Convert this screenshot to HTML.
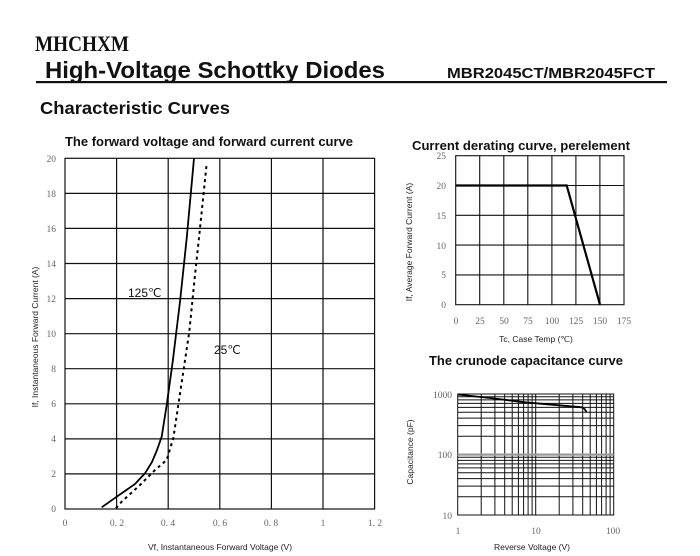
<!DOCTYPE html>
<html><head><meta charset="utf-8"><style>
html,body{margin:0;padding:0;background:#fff;width:700px;height:556px;overflow:hidden}
svg{display:block}
.s{font-family:"Liberation Serif",serif;font-size:9.5px;fill:#666}
.a{font-family:"Liberation Sans",sans-serif;font-size:8.5px;fill:#222}
.t{font-family:"Liberation Sans",sans-serif;font-weight:bold;fill:#111}
</style></head><body>
<svg width="700" height="556" viewBox="0 0 700 556" xmlns="http://www.w3.org/2000/svg">
<text x="35" y="51" font-family="Liberation Serif,serif" font-weight="bold" font-size="22" textLength="94" lengthAdjust="spacingAndGlyphs" fill="#111">MHCHXM</text>
<text x="45" y="78" class="t" font-size="23" textLength="340" lengthAdjust="spacingAndGlyphs">High-Voltage Schottky Diodes</text>
<text x="447" y="78" class="t" font-size="14.5" textLength="208" lengthAdjust="spacingAndGlyphs">MBR2045CT/MBR2045FCT</text>
<rect x="36" y="81" width="631" height="2.2" fill="#111"/>
<text x="40" y="114" class="t" font-size="17.5" textLength="190" lengthAdjust="spacingAndGlyphs">Characteristic Curves</text>

<!-- main chart -->
<text x="65" y="146" class="t" font-size="12.5" textLength="288" lengthAdjust="spacingAndGlyphs">The forward voltage and forward current curve</text>
<g stroke="#111" stroke-width="1.2" fill="none">
<rect x="65" y="158.3" width="309.6" height="350.7"/>
<path d="M116.6 158.3V509M168.2 158.3V509M219.8 158.3V509M271.4 158.3V509M323 158.3V509
M65 193.4H374.6M65 228.4H374.6M65 263.5H374.6M65 298.6H374.6M65 333.7H374.6M65 368.7H374.6M65 403.8H374.6M65 438.9H374.6M65 473.9H374.6"/>
</g>
<g class="s" text-anchor="end">
<text x="56" y="162">20</text><text x="56" y="197">18</text><text x="56" y="232">16</text><text x="56" y="267">14</text><text x="56" y="302">12</text><text x="56" y="337">10</text><text x="56" y="372">8</text><text x="56" y="407">6</text><text x="56" y="442">4</text><text x="56" y="477">2</text><text x="56" y="512">0</text>
</g>
<g class="s" text-anchor="middle">
<text x="65" y="526">0</text><text x="117" y="526">0. 2</text><text x="168" y="526">0. 4</text><text x="220" y="526">0. 6</text><text x="271" y="526">0. 8</text><text x="323" y="526">1</text><text x="375" y="526">1. 2</text>
</g>
<text x="220" y="550" class="a" text-anchor="middle">Vf, Instantaneous Forward Voltage (V)</text>
<text transform="translate(38,337) rotate(-90)" class="a" text-anchor="middle">If, Instantaneous Forward Current (A)</text>
<path d="M101.7 507.3 L116.7 496.7 L135 484 L145 473.3 L152 462 L157 450 L161.7 436.7 L166.7 405 L172.7 361.7 L180 301.7 L186.7 238.3 L194 158.3" fill="none" stroke="#000" stroke-width="1.8"/>
<path d="M116 508.3 L121.7 501.7 L140 485 L155 470 L166.7 460 L173.3 438.3 L178.3 405 L183.3 371.7 L189.3 331.7 L195 275 L200 228.3 L206.7 163.3" fill="none" stroke="#000" stroke-width="2" stroke-dasharray="3,3.5"/>
<text x="128" y="297" font-family="Liberation Sans,sans-serif" font-size="12" fill="#111">125℃</text>
<text x="214" y="354" font-family="Liberation Sans,sans-serif" font-size="12" fill="#111">25℃</text>

<!-- derating -->
<text x="412" y="150" class="t" font-size="12.5" textLength="218" lengthAdjust="spacingAndGlyphs">Current derating curve, perelement</text>
<g stroke="#111" stroke-width="1.1" fill="none">
<rect x="455.7" y="155.7" width="168.3" height="149"/>
<path d="M479.7 155.7V304.7M503.8 155.7V304.7M527.8 155.7V304.7M551.9 155.7V304.7M575.9 155.7V304.7M599.9 155.7V304.7
M455.7 185.5H624M455.7 215.3H624M455.7 245.1H624M455.7 274.9H624"/>
</g>
<path d="M455.7 185.5H566.7L600 304.7" fill="none" stroke="#000" stroke-width="2.2"/>
<g class="s" text-anchor="end">
<text x="446" y="159">25</text><text x="446" y="189">20</text><text x="446" y="219">15</text><text x="446" y="249">10</text><text x="446" y="278">5</text><text x="446" y="308">0</text>
</g>
<g class="s" text-anchor="middle">
<text x="456" y="324">0</text><text x="480" y="324">25</text><text x="504" y="324">50</text><text x="528" y="324">75</text><text x="552" y="324">100</text><text x="576" y="324">125</text><text x="600" y="324">150</text><text x="624" y="324">175</text>
</g>
<text x="536" y="342" class="a" text-anchor="middle">Tc, Case Temp (℃)</text>
<text transform="translate(412,242) rotate(-90)" class="a" font-size="7.5" text-anchor="middle">If, Average Forward Current (A)</text>

<!-- capacitance -->
<text x="429" y="365" class="t" font-size="12.5" textLength="194" lengthAdjust="spacingAndGlyphs">The crunode capacitance curve</text>
<g stroke="#111" stroke-width="1" fill="none">
<rect x="457.7" y="394" width="156" height="121"/>
<path d="M481.2 394V515M494.9 394V515M504.7 394V515M512.2 394V515M518.4 394V515M523.6 394V515M528.1 394V515M532.1 394V515M535.7 394V515
M559.2 394V515M572.9 394V515M582.7 394V515M590.2 394V515M596.4 394V515M601.6 394V515M606.1 394V515M610.1 394V515
M457.7 496.8H613.7M457.7 486.1H613.7M457.7 478.6H613.7M457.7 472.7H613.7M457.7 467.9H613.7M457.7 463.9H613.7M457.7 460.4H613.7M457.7 457.3H613.7
M457.7 436.3H613.7M457.7 425.6H613.7M457.7 418.1H613.7M457.7 412.2H613.7M457.7 407.4H613.7M457.7 403.4H613.7M457.7 399.9H613.7M457.7 396.8H613.7"/>
</g>
<rect x="457.7" y="453.5" width="156" height="2.2" fill="#999"/>
<path d="M457.7 394.5 L490 398 L525 402.3 L581.7 407.3 L584.5 409 L586.7 412.3" fill="none" stroke="#000" stroke-width="1.8"/>
<g class="s" text-anchor="end">
<text x="452" y="398">1000</text><text x="452" y="458">100</text><text x="452" y="519">10</text>
</g>
<g class="s" text-anchor="middle">
<text x="458" y="534">1</text><text x="536" y="534">10</text><text x="613" y="534">100</text>
</g>
<text x="532" y="550" class="a" text-anchor="middle">Reverse Voltage (V)</text>
<text transform="translate(413,452) rotate(-90)" class="a" text-anchor="middle">Capacitance (pF)</text>
</svg>
</body></html>
